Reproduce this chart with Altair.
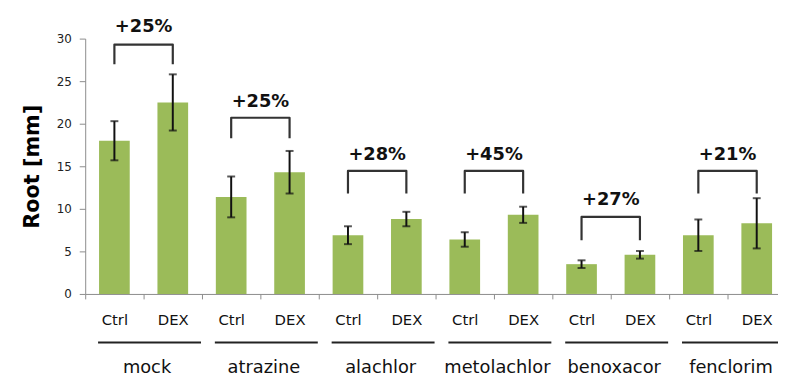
import altair as alt
import pandas as pd

groups = ["mock", "atrazine", "alachlor", "metolachlor", "benoxacor", "fenclorim"]
conditions = ["Ctrl", "DEX"]
ctrl_mean = [18.0, 11.4, 6.9, 6.4, 3.5, 6.9]
ctrl_err = [2.3, 2.4, 1.05, 0.85, 0.45, 1.85]
dex_mean = [22.5, 14.3, 8.8, 9.3, 4.6, 8.3]
dex_err = [3.3, 2.5, 0.85, 0.95, 0.45, 2.95]
change_labels = ["+25%", "+25%", "+28%", "+45%", "+27%", "+21%"]
bracket_top = [29.3, 20.7, 14.45, 14.45, 9.05, 14.45]
bracket_leg = [27.0, 18.3, 11.8, 11.8, 6.3, 11.8]
label_y = [30.8, 22.0, 15.7, 15.7, 10.5, 15.7]

rows = []
for i, g in enumerate(groups):
    for c, m, e in ((conditions[0], ctrl_mean[i], ctrl_err[i]), (conditions[1], dex_mean[i], dex_err[i])):
        rows.append({"key": f"{g}|{c}", "group": g, "cond": c, "mean": m, "lo": m - e, "hi": m + e})
bars_df = pd.DataFrame(rows)
order = list(bars_df["key"])

brows = []
for i, g in enumerate(groups):
    pts = [(f"{g}|Ctrl", bracket_leg[i]), (f"{g}|Ctrl", bracket_top[i]),
           (f"{g}|DEX", bracket_top[i]), (f"{g}|DEX", bracket_leg[i])]
    for j, (k, yv) in enumerate(pts):
        brows.append({"key": k, "y": yv, "group": g, "ord": j})
bracket_df = pd.DataFrame(brows)

grp_df = pd.DataFrame({
    "key": [f"{g}|Ctrl" for g in groups],
    "key2": [f"{g}|DEX" for g in groups],
    "group": groups,
    "label": change_labels,
    "ly": label_y,
})

FONT = "DejaVu Sans"
xscale = alt.Scale(domain=order, range=[0, 708], paddingInner=0, paddingOuter=0)
yscale = alt.Scale(domain=[0, 30])

x_axis = alt.Axis(
    labelExpr="split(datum.value, '|')[1]",
    tickBand="extent", tickSize=5, tickColor="#8c8c8c", domainColor="#8c8c8c",
    labelFont=FONT, labelFontSize=15, labelColor="#111111", labelPadding=14,
    labelAngle=0, grid=False,
)
y_axis = alt.Axis(
    values=[0, 5, 10, 15, 20, 25, 30], tickSize=6, tickColor="#8c8c8c", domainColor="#8c8c8c",
    labelFont=FONT, labelFontSize=12, labelColor="#222222", labelPadding=8,
    titleFont=FONT, titleFontSize=21, titleFontWeight="bold",
    titleColor="#000000", titlePadding=14, grid=False,
)


def X():
    return alt.X("key:N", scale=xscale, sort=order, axis=x_axis, title=None)


def Y(field):
    return alt.Y(field, scale=yscale, axis=y_axis, title="Root [mm]")


bars = alt.Chart(bars_df).mark_bar(color="#9bbb59", width=31).encode(x=X(), y=Y("mean:Q"))

err = alt.Chart(bars_df).mark_rule(color="#111111", strokeWidth=2).encode(
    x=X(), y=Y("lo:Q"), y2="hi:Q",
)
cap_hi = alt.Chart(bars_df).mark_tick(color="#111111", orient="horizontal", size=8, thickness=2).encode(
    x=X(), y=Y("hi:Q"),
)
cap_lo = alt.Chart(bars_df).mark_tick(color="#111111", orient="horizontal", size=8, thickness=2).encode(
    x=X(), y=Y("lo:Q"),
)

brackets = alt.Chart(bracket_df).mark_line(color="#333333", strokeWidth=2.2, strokeJoin="round").encode(
    x=X(), y=Y("y:Q"), detail="group:N", order="ord:Q",
)

pct = alt.Chart(grp_df).mark_text(
    font=FONT, fontSize=18, fontWeight="bold", color="#111111", baseline="alphabetic", dx=29.5
).encode(x=X(), y=Y("ly:Q"), text="label:N")

grp_line = alt.Chart(grp_df).mark_rule(color="#222222", strokeWidth=2, xOffset=-16.5, x2Offset=28.5).encode(
    x=X(), x2="key2:N", y=alt.value(307),
)

grp_text = alt.Chart(grp_df).mark_text(
    font=FONT, fontSize=18, color="#111111", baseline="alphabetic", dx=33
).encode(x=X(), y=alt.value(338), text="group:N")

chart = alt.layer(bars, err, cap_hi, cap_lo, brackets, pct, grp_line, grp_text).properties(
    width=700, height=258,
    autosize=alt.AutoSizeParams(type="none"),
    padding={"left": 78, "top": 29, "right": 0, "bottom": 83},
    background="white",
).configure_view(stroke=None)

chart.save("out.html", embed_options={"renderer": "svg", "actions": False})
